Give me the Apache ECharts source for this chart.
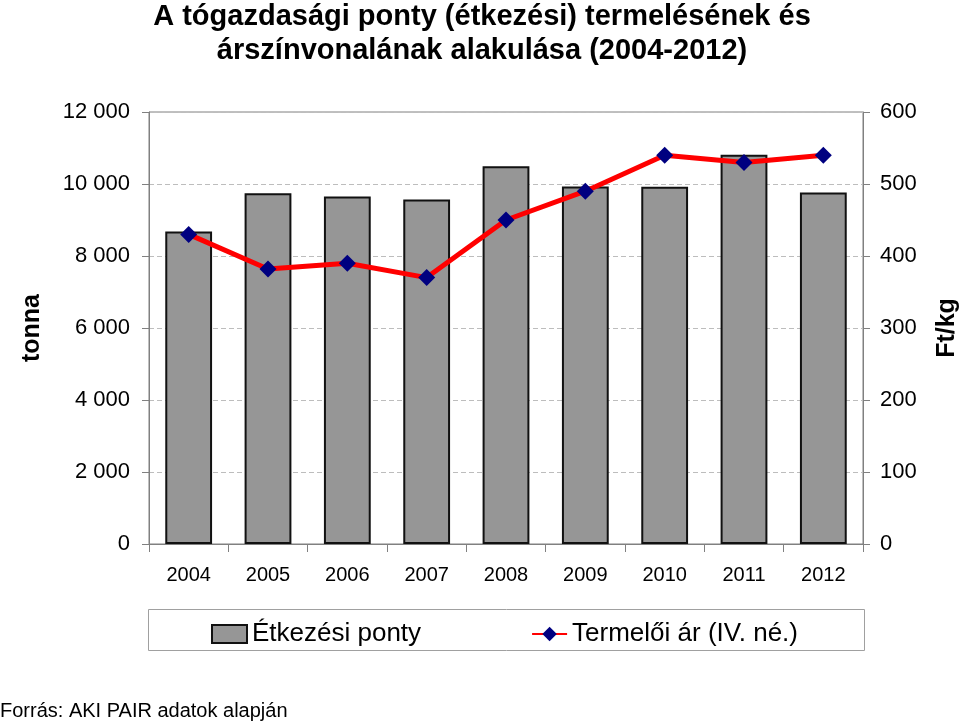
<!DOCTYPE html>
<html>
<head>
<meta charset="utf-8">
<script src="https://cdn.jsdelivr.net/npm/echarts@6/dist/echarts.min.js"></script>
<style>html,body{margin:0;padding:0;background:#fff}#c{width:960px;height:723px}</style>
</head>
<body>
<div id="c"></div>
<script>
const years = ['2004','2005','2006','2007','2008','2009','2010','2011','2012'];
const production = [8680, 9740, 9655, 9570, 10490, 9930, 9925, 10815, 9765];
const price = [430, 382, 390, 370, 450, 490, 540, 530, 540];
const barName = 'Étkezési ponty';
const lineName = 'Termelői ár (IV. né.)';
const titleText = 'A tógazdasági ponty (étkezési) termelésének és\nárszínvonalának alakulása (2004-2012)';
const leftAxisName = 'tonna';
const rightAxisName = 'Ft/kg';
const sourceText = 'Forrás: AKI PAIR adatok alapján';

const FONT = '"Liberation Sans", Arial, sans-serif';
const chart = echarts.init(document.getElementById('c'), null, {renderer: 'canvas'});
const fmtThousands = v => {
  const s = String(v);
  return s.length > 3 ? s.slice(0, s.length - 3) + ' ' + s.slice(-3) : s;
};
chart.setOption({
  animation: false,
  backgroundColor: '#fff',
  textStyle: {fontFamily: FONT},
  title: {
    text: titleText,
    left: 477,
    top: -5,
    textAlign: 'center',
    textStyle: {fontFamily: FONT, fontSize: 29, fontWeight: 'bold', color: '#000', lineHeight: 34}
  },
  grid: {left: 149, right: 97, top: 112, bottom: 179, show: true, borderColor: '#808080', borderWidth: 1, outerBoundsMode: 'none', containLabel: false},
  legend: {
    left: 206, top: 616,
    itemWidth: 35, itemHeight: 18, itemGap: 110,
    textStyle: {fontFamily: FONT, fontSize: 26, color: '#000'},
    data: [{name: barName, icon: 'rect'}, {name: lineName}]
  },
  xAxis: {
    type: 'category',
    data: years,
    axisLine: {lineStyle: {color: '#808080', width: 1}},
    axisTick: {show: true, length: 8, lineStyle: {color: '#808080'}},
    axisLabel: {fontFamily: FONT, fontSize: 20, color: '#000', margin: 21}
  },
  yAxis: [
    {
      type: 'value', min: 0, max: 12000, interval: 2000,
      name: leftAxisName, nameLocation: 'middle', nameRotate: 90, nameGap: 104,
      nameTextStyle: {fontFamily: FONT, fontSize: 25, fontWeight: 'bold', color: '#000'},
      axisLine: {show: true, lineStyle: {color: '#808080'}},
      axisTick: {show: true, length: 7, lineStyle: {color: '#808080'}},
      splitLine: {show: true, lineStyle: {color: '#bdbdbd', type: [5, 3], width: 1}},
      axisLabel: {fontFamily: FONT, fontSize: 22, color: '#000', margin: 19, formatter: fmtThousands}
    },
    {
      type: 'value', min: 0, max: 600, interval: 100,
      name: rightAxisName, nameLocation: 'middle', nameRotate: 90, nameGap: 72,
      nameTextStyle: {fontFamily: FONT, fontSize: 25, fontWeight: 'bold', color: '#000'},
      axisLine: {show: true, lineStyle: {color: '#808080'}},
      axisTick: {show: true, length: 7, lineStyle: {color: '#808080'}},
      splitLine: {show: false},
      axisLabel: {fontFamily: FONT, fontSize: 22, color: '#000', margin: 17}
    }
  ],
  series: [
    {
      name: barName, type: 'bar', data: production, yAxisIndex: 0,
      barWidth: '59%',
      itemStyle: {color: '#969696', borderColor: '#111', borderWidth: 2}
    },
    {
      name: lineName, type: 'line', data: price, yAxisIndex: 1,
      symbol: 'diamond', symbolSize: 17,
      lineStyle: {color: '#ff0000', width: 5},
      itemStyle: {color: '#000080'}
    }
  ],
  graphic: [
    {type: 'rect', shape: {x: 148.5, y: 609.5, width: 716, height: 41}, style: {fill: 'none', stroke: '#a0a0a0', lineWidth: 1}, z: -1},
    {type: 'text', left: 0, top: 701, style: {text: sourceText, font: '20px ' + FONT, fill: '#000'}}
  ]
});
</script>
</body>
</html>
